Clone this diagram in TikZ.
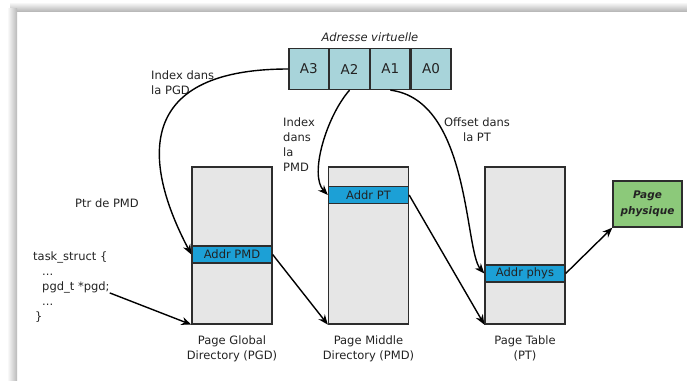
\documentclass[tikz,border=0pt]{standalone}
\usepackage{fontspec}
\setmainfont{DejaVu Sans}
\usetikzlibrary{positioning,arrows.meta}
\definecolor{ink}{RGB}{35,35,35}
\definecolor{edge}{RGB}{45,45,45}
\definecolor{cellblue}{RGB}{168,212,218}
\definecolor{entryblue}{RGB}{28,160,214}
\definecolor{tablegray}{RGB}{230,230,230}
\definecolor{physgreen}{RGB}{140,201,122}
\tikzstyle{cell} = [draw=edge,fill=cellblue,line width=1.3pt,minimum width=39.5pt,minimum height=41pt,inner sep=0pt,text=ink,font=\fontsize{13.5}{15}\selectfont]
\tikzstyle{tablebox} = [draw=edge,fill=tablegray,line width=1.3pt,minimum width=80pt,minimum height=157pt]
\tikzstyle{entry} = [draw=edge,fill=entryblue,line width=1.3pt,minimum width=80pt,minimum height=17pt,inner sep=0pt,text=ink,font=\fontsize{11.5}{13}\selectfont]
\tikzstyle{physbox} = [draw=edge,fill=physgreen,line width=1.3pt,minimum width=69pt,minimum height=46pt,inner sep=0pt,align=center,text=ink,font=\fontsize{10.5}{16}\selectfont\bfseries\itshape]
\tikzstyle{lbl} = [inner sep=0pt,text=ink,font=\fontsize{11.5}{15}\selectfont]
\tikzstyle{ptr} = [-{Stealth[length=10pt,width=8pt]},line width=1.4pt,draw=black]

\begin{document}
\begin{tikzpicture}[x=1pt,y=-1pt]
  \useasboundingbox (0,0) rectangle (687,380);
  \shade[top color=white,bottom color=gray!55] (10,2) rectangle (687,11);
  \shade[left color=white,right color=gray!55] (7,8) rectangle (17,380);

  \node[cell] (a3) at (308.75,69) {A3};
  \node[cell,right=0pt of a3] (a2) {A2};
  \node[cell,right=0pt of a2] (a1) {A1};
  \node[cell,right=0pt of a1] (a0) {A0};
  \node[lbl,font=\fontsize{11.5}{15}\selectfont\itshape,above=6pt of a2.north east] (adr) {Adresse virtuelle};

  \node[tablebox] (pgd) at (232,245.5) {};
  \node[tablebox] (pmd) at (368.5,245.5) {};
  \node[tablebox] (pt) at (525,245.5) {};
  \node[entry] (pgdentry) at (232,254.5) {Addr PMD};
  \node[entry] (pmdentry) at (368.5,195) {Addr PT};
  \node[entry] (ptentry) at (525,273.5) {Addr phys};
  \node[physbox] (phys) at (647.5,204) {Page\\physique};

  \node[lbl,align=center,below=11pt of pgd] (pgdname) {Page Global\\Directory (PGD)};
  \node[lbl,align=center,below=11pt of pmd] (pmdname) {Page Middle\\Directory (PMD)};
  \node[lbl,align=center,below=11pt of pt] (ptname) {Page Table\\(PT)};

  \node[lbl,align=left,anchor=north west] (idxpgd) at (151,71) {Index dans\\la PGD};
  \node[lbl,align=left,anchor=north west] (idxpmd) at (283,118) {Index\\dans\\la\\PMD};
  \node[lbl,align=center,anchor=north] (offset) at (477,118) {Offset dans\\la PT};
  \node[lbl] (ptrpmd) at (107,203) {Ptr de PMD};

  \node[lbl,anchor=base west] (task) at (33,260) {task\_struct \{};
  \node[lbl,anchor=base west] (dotsa) at (42,275) {...};
  \node[lbl,anchor=base west] (pgdline) at (42,290) {pgd\_t *pgd;};
  \node[lbl,anchor=base west] (dotsb) at (42,305) {...};
  \node[lbl,anchor=base west] (close) at (35,320) {\}};

  \draw[ptr] (pgdline.south east) -- (pgd.south west);
  \draw[ptr] (pgdentry.east) -- (pmd.south west);
  \draw[ptr] (pmdentry.east) -- (pt.south west);
  \draw[ptr] (ptentry.east) -- (phys.south west);
  \draw[ptr] (a3.west) .. controls +(-160,0) and +(-45,-85) .. (pgdentry.west);
  \draw[ptr] (a2.south) .. controls +(-23,26) and +(-19,-20) .. (pmdentry.west);
  \draw[ptr] (a1.south) .. controls +(80,10) and +(-20,-23) .. (ptentry.west);
\end{tikzpicture}
\end{document}
